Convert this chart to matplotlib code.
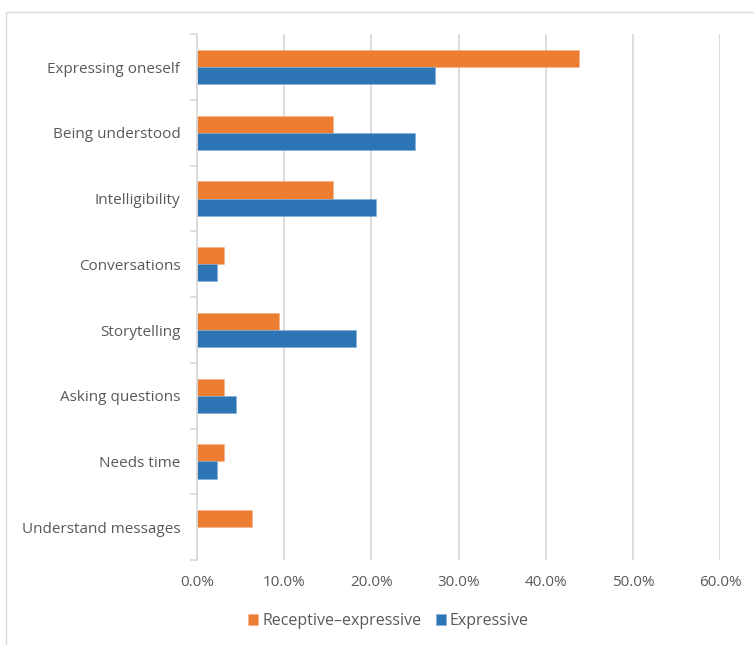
import matplotlib
matplotlib.use("Agg")
import matplotlib.pyplot as plt
from matplotlib.patches import Rectangle
from matplotlib.ticker import FuncFormatter
import numpy as np

plt.rcParams['font.family'] = ['Open Sans', 'DejaVu Sans']

categories = ["Expressing oneself", "Being understood", "Intelligibility", "Conversations",
              "Storytelling", "Asking questions", "Needs time", "Understand messages"]
receptive_expressive = [43.8, 15.6, 15.6, 3.1, 9.4, 3.1, 3.1, 6.25]
expressive = [27.3, 25.0, 20.5, 2.3, 18.2, 4.5, 2.3, 0.0]
series_names = ["Receptive\u2013expressive", "Expressive"]
xticks = [0, 10, 20, 30, 40, 50, 60]

orange = "#ED7D31"
blue = "#2E75B6"
text_col = "#595959"
grid_col = "#D9D9D9"

W, H = 754, 645
fig = plt.figure(figsize=(W / 100, H / 100), dpi=100)

# chart border
fig.patches.append(Rectangle((6 / W, -0.01), 1.0, 1 - 12 / H + 0.01, transform=fig.transFigure,
                             fill=False, edgecolor="#D9D9D9", linewidth=1.0))

ax = fig.add_axes([197 / W, 1 - 560 / H, (720.2 - 197) / W, (560 - 34.3) / H])

y = np.arange(len(categories))
h = 0.26
ax.barh(y - h / 2, receptive_expressive, height=h, color=orange, edgecolor="#F5B38A",
        linewidth=0.4, label=series_names[0], zorder=3)
ax.barh(y + h / 2, expressive, height=h, color=blue,
        edgecolor=["#7FAEDC" if v > 0 else "none" for v in expressive],
        linewidth=0.4, label=series_names[1], zorder=3)

ax.set_ylim(len(categories) - 0.5, -0.5)
ax.set_xlim(0, 60)
ax.set_xticks(xticks)
ax.xaxis.set_major_formatter(FuncFormatter(lambda v, p: f"{v:.1f}%"))
ax.set_yticks(y)
ax.set_yticklabels(categories)
ax.set_yticks(np.arange(len(categories) + 1) - 0.5, minor=True)

ax.grid(axis="x", color=grid_col, linewidth=1.3, zorder=0)
for s in ["top", "right", "bottom"]:
    ax.spines[s].set_visible(False)
ax.spines["left"].set_color(grid_col)
ax.spines["left"].set_linewidth(1.3)
ax.spines["left"].set_zorder(4)

ax.tick_params(axis="x", length=0, pad=11, labelsize=11, labelcolor=text_col)
ax.tick_params(axis="y", which="major", length=0, pad=12, labelsize=11, labelcolor=text_col)
ax.tick_params(axis="y", which="minor", length=5, width=1.2, color=grid_col)

leg = fig.legend(loc="center", bbox_to_anchor=(0.515, 1 - 621 / H), ncol=2, frameon=False,
                 fontsize=11.5, handlelength=0.65, handleheight=0.65, handletextpad=0.25,
                 columnspacing=0.9)
for t in leg.get_texts():
    t.set_color(text_col)

fig.savefig("out.png", dpi=100)
